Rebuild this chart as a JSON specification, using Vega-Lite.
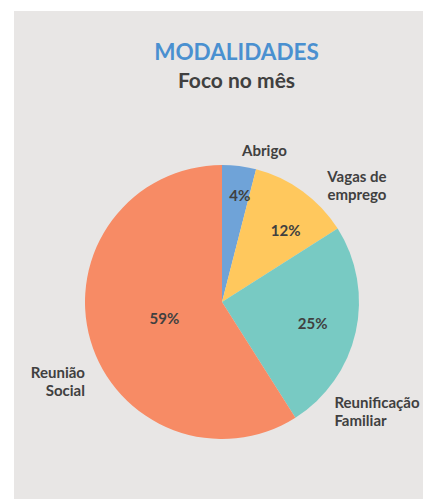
{
  "$schema": "https://vega.github.io/schema/vega-lite/v6.json",
  "width": 409,
  "height": 488,
  "padding": {"left": 14, "top": 11, "right": 0, "bottom": 0},
  "autosize": {"type": "none"},
  "background": "white",
  "view": {"fill": "#e8e6e5", "stroke": null},
  "config": {
    "view": {"fill": "#e8e6e5", "stroke": null},
    "text": {"font": "Lato", "fontSize": 15, "fontWeight": "bold", "fill": "#404040", "lineBreak": "\n", "lineHeight": 18}
  },
  "title": {
    "text": "MODALIDADES",
    "subtitle": "Foco no mês",
    "anchor": "middle",
    "dx": 18,
    "offset": -81,
    "font": "Lato",
    "fontSize": 22.5,
    "fontWeight": "bold",
    "color": "#4a90d0",
    "subtitleFont": "Lato",
    "subtitleFontSize": 21,
    "subtitleFontWeight": "bold",
    "subtitleColor": "#404040",
    "subtitlePadding": 7
  },
  "data": {
    "values": [
      {"categoria": "Abrigo", "rotulo": "Abrigo", "pct": 4, "rotuloPct": "4%"},
      {"categoria": "Vagas de emprego", "rotulo": "Vagas de\nemprego", "pct": 12, "rotuloPct": "12%"},
      {"categoria": "Reunificação Familiar", "rotulo": "Reunificação\nFamiliar", "pct": 25, "rotuloPct": "25%"},
      {"categoria": "Reunião Social", "rotulo": "Reunião\nSocial", "pct": 59, "rotuloPct": "59%"}
    ]
  },
  "encoding": {
    "theta": {"field": "pct", "type": "quantitative", "stack": true},
    "order": {"field": "pct", "type": "quantitative", "sort": "ascending"}
  },
  "layer": [
    {
      "mark": {"type": "arc", "radius": 137, "x": {"expr": "width/2+3.5"}, "y": {"expr": "height/2+47"}},
      "encoding": {
        "color": {
          "field": "categoria",
          "type": "nominal",
          "scale": {
            "domain": ["Abrigo", "Vagas de emprego", "Reunificação Familiar", "Reunião Social"],
            "range": ["#6fa3d8", "#ffc85d", "#78cac3", "#f78b65"]
          },
          "legend": null
        }
      }
    },
    {
      "mark": {"type": "text", "radius": 155, "align": "center", "baseline": "middle", "dx": 23, "dy": 3, "x": {"expr": "width/2+3.5"}, "y": {"expr": "height/2+47"}},
      "encoding": {
        "detail": {"field": "categoria"},
        "text": {"condition": {"test": "datum.categoria === 'Abrigo'", "field": "rotulo"}, "value": ""}
      }
    },
    {
      "mark": {"type": "text", "radius": 170, "align": "center", "baseline": "middle", "dx": 35, "dy": 13, "x": {"expr": "width/2+3.5"}, "y": {"expr": "height/2+47"}},
      "encoding": {
        "detail": {"field": "categoria"},
        "text": {"condition": {"test": "datum.categoria === 'Vagas de emprego'", "field": "rotulo"}, "value": ""}
      }
    },
    {
      "mark": {"type": "text", "radius": 150, "align": "left", "baseline": "middle", "dx": -34, "dy": 68, "x": {"expr": "width/2+3.5"}, "y": {"expr": "height/2+47"}},
      "encoding": {
        "detail": {"field": "categoria"},
        "text": {"condition": {"test": "datum.categoria === 'Reunificação Familiar'", "field": "rotulo"}, "value": ""}
      }
    },
    {
      "mark": {"type": "text", "radius": 150, "align": "right", "baseline": "middle", "dx": 7, "dy": 29, "x": {"expr": "width/2+3.5"}, "y": {"expr": "height/2+47"}},
      "encoding": {
        "detail": {"field": "categoria"},
        "text": {"condition": {"test": "datum.categoria === 'Reunião Social'", "field": "rotulo"}, "value": ""}
      }
    },
    {
      "mark": {"type": "text", "radius": 110, "align": "center", "baseline": "middle", "dx": 4, "dy": 3, "x": {"expr": "width/2+3.5"}, "y": {"expr": "height/2+47"}},
      "encoding": {
        "detail": {"field": "categoria"},
        "text": {"condition": {"test": "datum.categoria === 'Abrigo'", "field": "rotuloPct"}, "value": ""}
      }
    },
    {
      "mark": {"type": "text", "radius": 98, "align": "center", "baseline": "middle", "dx": 6, "dy": 8, "x": {"expr": "width/2+3.5"}, "y": {"expr": "height/2+47"}},
      "encoding": {
        "detail": {"field": "categoria"},
        "text": {"condition": {"test": "datum.categoria === 'Vagas de emprego'", "field": "rotuloPct"}, "value": ""}
      }
    },
    {
      "mark": {"type": "text", "radius": 98, "align": "center", "baseline": "middle", "dx": -5, "dy": 1, "x": {"expr": "width/2+3.5"}, "y": {"expr": "height/2+47"}},
      "encoding": {
        "detail": {"field": "categoria"},
        "text": {"condition": {"test": "datum.categoria === 'Reunificação Familiar'", "field": "rotuloPct"}, "value": ""}
      }
    },
    {
      "mark": {"type": "text", "radius": 60, "align": "center", "baseline": "middle", "x": {"expr": "width/2+3.5"}, "y": {"expr": "height/2+47"}},
      "encoding": {
        "detail": {"field": "categoria"},
        "text": {"condition": {"test": "datum.categoria === 'Reunião Social'", "field": "rotuloPct"}, "value": ""}
      }
    }
  ]
}
